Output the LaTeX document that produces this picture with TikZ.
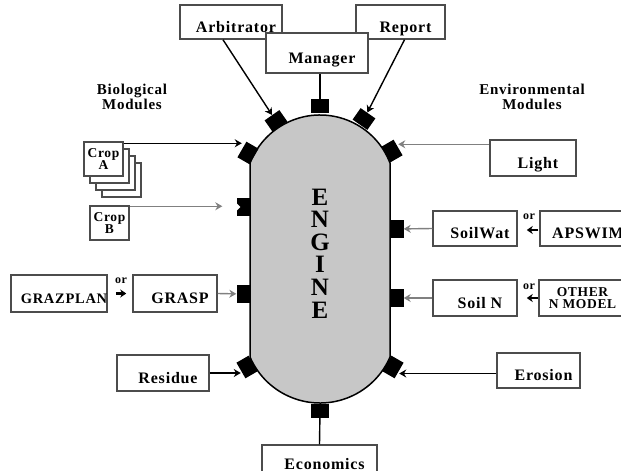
\documentclass[tikz,border=0pt]{standalone}
\usepackage{fontspec}
\setmainfont{Liberation Serif}[LetterSpace=5]
\usetikzlibrary{arrows.meta}

\begin{document}
\begin{tikzpicture}[x=1pt, y=-1pt,
	box/.style={draw=black!70, line width=1.5pt, fill=white, inner sep=0pt, minimum height=35pt, font=\fontsize{16}{16}\selectfont\bfseries, text height=20pt, text depth=0pt, execute at begin node={\hspace*{10pt}}},
	stackbox/.style={draw=black!70, line width=1.5pt, fill=white, inner sep=0pt, minimum width=39pt, minimum height=34pt, font=\fontsize{13.5}{11}\selectfont\bfseries, align=center},
	otherbox/.style={draw=black!70, line width=1.5pt, fill=white, inner sep=0pt, minimum height=36pt, font=\fontsize{13.5}{12}\selectfont\bfseries, align=center},
	plug/.style={fill=black, minimum width=14pt, minimum height=18pt, inner sep=0pt},
	wire/.style={line width=1.4pt},
	gwire/.style={line width=1.4pt, black!50},
	tip/.style={-{Stealth[length=7pt, width=8pt]}},
	ortip/.style={line width=2.2pt, -{Stealth[length=6pt, width=8pt]}},
	ortext/.style={font=\fontsize{12}{12}\selectfont\bfseries},
	heading/.style={font=\fontsize{15}{14.5}\selectfont\bfseries, align=center}
]
	\useasboundingbox (0,0) rectangle (621,471);
	\clip (0,0) rectangle (621,471);

	% the engine
	\filldraw[fill=black!22, line width=1.5pt] (390,163) arc[start angle=-21.1, end angle=-158.9, radius=75] -- (250,357) arc[start angle=156.6, end angle=23.4, radius=76.3] -- cycle;
	\draw (320,253.5) 	node[font=\fontsize{25}{22.6}\selectfont\bfseries, align=center] 	(engine) 	{E\\N\\G\\I\\N\\E};

	% plugs round the engine
	\draw (320,106) 	node[plug, rotate=90] 	(pMan) 		{};
	\draw (276,121) 	node[plug, rotate=125] 	(pArb) 		{};
	\draw (364,119) 	node[plug, rotate=55] 	(pRep) 		{};
	\draw (248,153) 	node[plug, rotate=150] 	(pA) 		{};
	\draw (392,151) 	node[plug, rotate=30] 	(pLight) 	{};
	\draw (243.5,207) 	node[plug] 				(pB) 		{};
	\draw (396.5,229) 	node[plug] 				(pSW) 		{};
	\draw (243.5,294) 	node[plug] 				(pGrasp) 	{};
	\draw (396.5,298) 	node[plug] 				(pSN) 		{};
	\draw (247,367) 	node[plug, rotate=210] 	(pRes) 		{};
	\draw (393,367) 	node[plug, rotate=-30] 	(pEro) 		{};
	\draw (320,411) 	node[plug, rotate=90] 	(pEco) 		{};
	\fill[white] ([yshift=4pt]pB.west) -- ([xshift=4pt]pB.west) -- ([yshift=-4pt]pB.west) -- cycle;

	% top modules
	\draw (231,22) 		node[box, minimum width=102pt, minimum height=34pt] 	(arb) 		{Arbitrator};
	\draw (400.5,22) 	node[box, minimum width=89pt, minimum height=34pt] 		(rep) 		{Report};
	\draw (317,53) 		node[box, minimum width=102pt, minimum height=40pt] 	(man) 		{Manager};

	% biological modules
	\draw (132,97) 		node[heading] 	(bio) 	{Biological\\Modules};
	\draw (121.5,180) 	node[stackbox] 	(cropA3) 	{};
	\draw (115.5,173) 	node[stackbox] 	(cropA2) 	{};
	\draw (109.5,166) 	node[stackbox] 	(cropA1) 	{};
	\draw (103.5,159) 	node[stackbox] 	(cropA) 	{Crop\\A};
	\draw (109.5,223) 	node[stackbox] 	(cropB) 	{Crop\\B};
	\draw (59,293.5) 	node[box, minimum width=92pt, minimum height=37pt, execute at begin node={}, font=\fontsize{14.5}{14.5}\selectfont\bfseries] 	(graz) 	{GRAZPLAN};
	\draw (175,293.5) 	node[box, minimum width=84pt, minimum height=37pt] 	(grasp) 	{GRASP};
	\draw (163,373) 	node[box, minimum width=92pt, minimum height=36pt] 	(res) 		{Residue};
	\draw (319.5,462) 	node[box, minimum width=115pt, minimum height=34pt, text height=15pt] 	(eco) 		{Economics};

	% environmental modules
	\draw (532,97) 		node[heading] 	(env) 	{Environmental\\Modules};
	\draw (533,158) 	node[box, minimum width=86pt, minimum height=36pt] 	(light) 	{Light};
	\draw (475,228.5) 	node[box, minimum width=84pt] 	(soilwat) 	{SoilWat};
	\draw (583,228.5) 	node[box, minimum width=86pt] 	(apswim) 	{APSWIM};
	\draw (475,298) 	node[box, minimum width=84pt, minimum height=36pt] 	(soiln) 	{Soil N};
	\draw (582.5,298) 	node[otherbox, minimum width=87pt] 	(other) 	{OTHER\\N MODEL};
	\draw (538.5,370.5) node[box, minimum width=83pt] 	(ero) 		{Erosion};

	% "or" choices
	\draw (121,281) 	node[ortext] 	(or1) 	{or};
	\draw (529,217) 	node[ortext] 	(or2) 	{or};
	\draw (529,287) 	node[ortext] 	(or3) 	{or};
	\draw[ortip] ([xshift=8pt]graz.east) -- ([xshift=-6pt]grasp.west);
	\draw[ortip] ([xshift=-1pt, yshift=-1.5pt]apswim.west) -- ([xshift=9pt, yshift=-1.5pt]soilwat.east);
	\draw[ortip] (other.west) -- ([xshift=9pt]soiln.east);

	% connections to the engine
	\draw[wire, tip] ([xshift=-8pt]arb.south) -- (pArb);
	\draw[wire, tip] ([xshift=4pt]rep.south) -- (pRep);
	\draw[wire] ([xshift=3pt]man.south) -- (pMan);
	\draw[wire, tip] ([yshift=-2pt]cropA.north east) -- ([yshift=-2pt]cropA.north east -| pA.east);
	\draw[gwire, tip] ([yshift=-1pt]cropB.north east) -- ([yshift=-1pt, xshift=-14pt]cropB.north east -| pB.west);
	\draw[gwire, tip] (grasp.east) -- (pGrasp);
	\draw[wire, tip] (res.east) -- (res.east -| pRes.east);
	\draw[wire] (eco.north) -- (pEco);
	\draw[gwire, tip] ([yshift=-5pt]light.north west) -- ([yshift=-5pt]light.north west -| pLight.east);
	\draw[gwire, tip] (soilwat.west) -- (pSW);
	\draw[gwire, tip] (soiln.west) -- (pSN);
	\draw[wire, tip] ([yshift=-3pt]ero.west) -- ([yshift=-3pt]ero.west -| pEro.east);
\end{tikzpicture}
\end{document}
